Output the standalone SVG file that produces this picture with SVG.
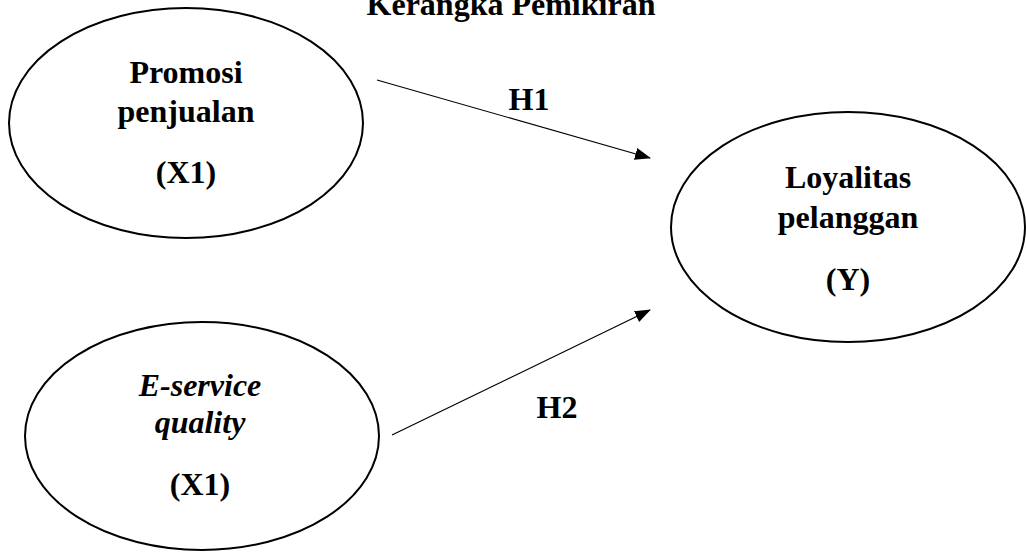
<svg xmlns="http://www.w3.org/2000/svg" width="1026" height="554" viewBox="0 0 1026 554">
<style>
.node ellipse{fill:#fff;stroke:#000;stroke-width:2}
text{font-family:"Liberation Serif","Times New Roman",serif;font-weight:bold;font-size:32px;fill:#000;text-anchor:middle}
.it{font-style:italic}
.conn line{stroke:#000;stroke-width:1.2}
</style>
<defs>
<marker id="ah" markerWidth="16" markerHeight="12" refX="15" refY="6" orient="auto" markerUnits="userSpaceOnUse">
<path d="M0,0 L16,6 L0,12 Z" fill="#000"/>
</marker>
</defs>
<rect width="1026" height="554" fill="#fff"/>
<text x="511" y="15" font-size="31">Kerangka Pemikiran</text>
<g class="conn">
<line x1="377" y1="80" x2="650" y2="158" marker-end="url(#ah)"/>
<line x1="392" y1="435" x2="650" y2="310" marker-end="url(#ah)"/>
<text x="529" y="110" font-size="30">H1</text>
<text x="557" y="418" font-size="30">H2</text>
</g>
<g id="x1" class="node">
<ellipse cx="186" cy="123" rx="177" ry="115"/>
<text x="186" y="83">Promosi</text>
<text x="186" y="122">penjualan</text>
<text x="186" y="183">(X1)</text>
</g>
<g id="x2" class="node">
<ellipse cx="202" cy="436" rx="177" ry="114"/>
<text x="200" y="396" class="it">E-service</text>
<text x="200" y="433" class="it">quality</text>
<text x="200" y="495">(X1)</text>
</g>
<g id="y" class="node">
<ellipse cx="848" cy="227" rx="177" ry="115"/>
<text x="848" y="188">Loyalitas</text>
<text x="848" y="228">pelanggan</text>
<text x="848" y="290">(Y)</text>
</g>
</svg>
